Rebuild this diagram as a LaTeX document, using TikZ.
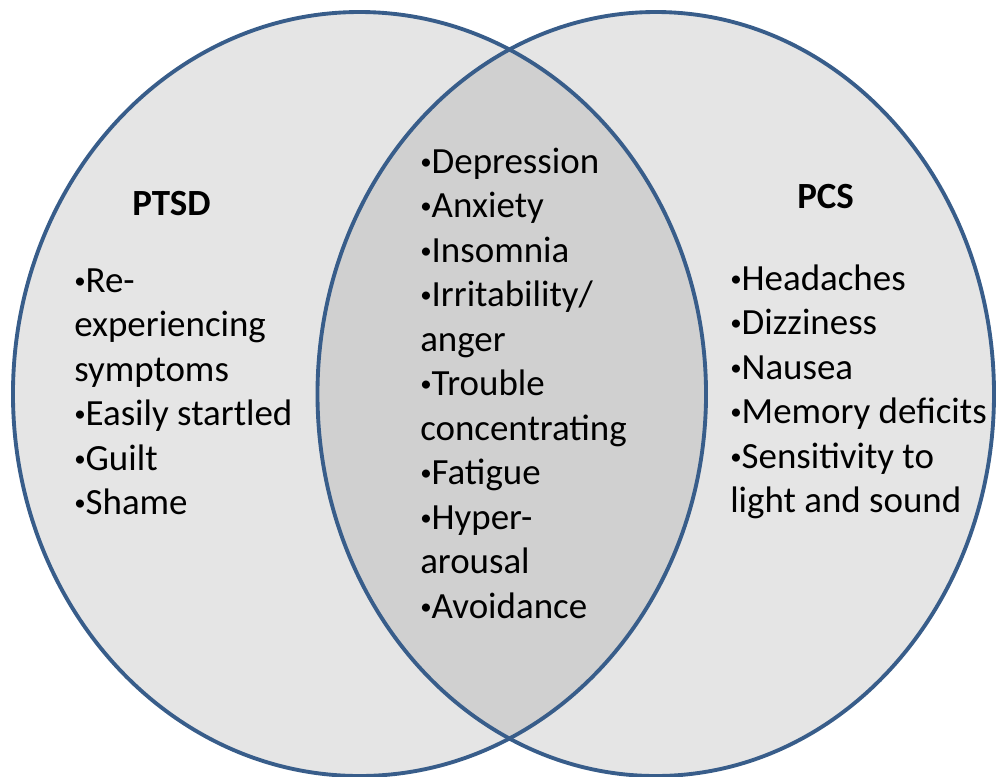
\documentclass[tikz,border=0pt]{standalone}
\usepackage{fontspec}
\setmainfont{Carlito}
\definecolor{vline}{RGB}{56,93,138}
\definecolor{vfill}{RGB}{229,229,229}
\definecolor{vmid}{RGB}{208,208,208}
\newcommand{\bul}{\raisebox{0.1em}{\scalebox{0.62}{•}}}
\begin{document}
\begin{tikzpicture}[x=0.75pt,y=-0.75pt,
  txt/.style={anchor=base west,inner sep=0pt,font=\fontsize{27.7}{33}\selectfont},
  ttl/.style={txt,font=\fontsize{27.7}{33}\selectfont\bfseries},
  outline/.style={draw=vline,line width=2.9pt}]
\useasboundingbox (0,0) rectangle (1000,776);
\def\leftell{(359.5,394) ellipse [x radius=259.9pt, y radius=286.5pt]}
\def\rightell{(655.75,394) ellipse [x radius=253.7pt, y radius=286.5pt]}
\fill[vfill] \leftell;
\fill[vfill] \rightell;
\begin{scope}
  \clip \leftell;
  \fill[vmid] \rightell;
\end{scope}
\draw[outline] \leftell;
\draw[outline] \rightell;
% titles
\node[ttl] (ptsd) at (132,215) {PTSD};
\node[ttl] (pcs) at (797,208) {PCS};
% left column
\foreach \t [count=\i from 0] in {\bul Re-,experiencing,symptoms,\bul Easily startled,\bul Guilt,\bul Shame}
  \node[txt] (l\i) at (74,292+44.5*\i) {\t};
% middle column
\foreach \t [count=\i from 0] in {\bul Depression,\bul Anxiety,\bul Insomnia,\bul Irritability/,anger,\bul Trouble,concentrating,\bul Fatigue,\bul Hyper-,arousal,\bul Avoidance}
  \node[txt] (m\i) at (420,173+44.5*\i) {\t};
% right column
\foreach \t [count=\i from 0] in {\bul Headaches,\bul Dizziness,\bul Nausea,\bul Memory deficits,\bul Sensitivity to,light and sound}
  \node[txt] (r\i) at (730,290+44.5*\i) {\t};
\end{tikzpicture}
\end{document}
